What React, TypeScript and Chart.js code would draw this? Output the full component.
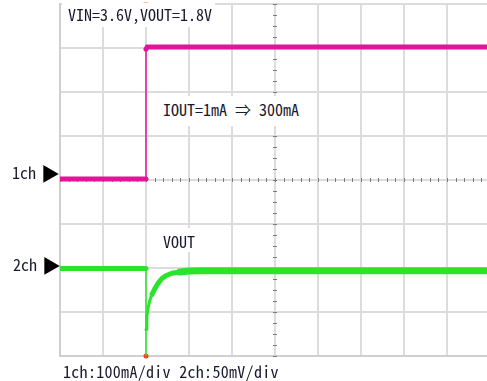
import React, { useEffect, useRef } from "react";
import { Chart, registerables } from "chart.js";

Chart.register(...registerables);

// Time axis in divisions (10 div), vertical axis in divisions (8 div)
const ch1Time = [0, 2.0, 2.0, 2.03, 10];
const ch1Level = [4.02, 4.02, 6.97, 7.02, 7.02];

const ch2Time = [0, 2.0, 2.0, 2.0, 2.02, 2.05, 2.09, 2.14, 2.21, 2.28, 2.37, 2.47, 2.6, 2.79, 3.0, 3.3, 10];
const ch2Level = [1.99, 1.99, 0, 0.6, 0.9, 1.1, 1.27, 1.4, 1.54, 1.65, 1.76, 1.83, 1.88, 1.91, 1.93, 1.94, 1.94];

const markerTime = [2.0, 2.0];
const markerLevel = [0, 8];

const xDivisions = 10;
const yDivisions = 8;

const titleText = "VIN=3.6V,VOUT=1.8V";
const loadText = "IOUT=1mA ⇒ 300mA";
const voutText = "VOUT";
const scaleText = "1ch:100mA/div 2ch:50mV/div";
const ch1Label = "1ch";
const ch2Label = "2ch";

const FONT = '"Noto Sans Mono CJK JP", "Noto Sans CJK JP", "DejaVu Sans Mono", monospace';
const TEXT_COLOR = "#181a30";

const centerTicks = {
  id: "centerTicks",
  beforeDatasetsDraw(chart: any) {
    const { ctx, scales } = chart;
    const xs = scales.x;
    const ys = scales.y;
    const cx = xs.getPixelForValue(xDivisions / 2);
    const cy = ys.getPixelForValue(yDivisions / 2);
    ctx.save();
    ctx.strokeStyle = "#7a7a7a";
    ctx.lineWidth = 1;
    ctx.beginPath();
    for (let v = 0; v <= yDivisions + 1e-9; v += 0.25) {
      const py = Math.round(ys.getPixelForValue(v)) + 0.5;
      ctx.moveTo(cx - 2, py);
      ctx.lineTo(cx + 2, py);
    }
    for (let v = 0; v <= xDivisions + 1e-9; v += 0.2) {
      const px = Math.round(xs.getPixelForValue(v)) + 0.5;
      ctx.moveTo(px, cy - 2);
      ctx.lineTo(px, cy + 2);
    }
    ctx.stroke();
    ctx.restore();
  },
};

const toPoints = (xs: number[], ys: number[]) => xs.map((x, i) => ({ x, y: ys[i] }));

export default function App() {
  const ref = useRef<HTMLCanvasElement>(null);

  useEffect(() => {
    if (!ref.current) return;
    const chart = new Chart(ref.current, {
      type: "line",
      data: {
        datasets: [
          {
            label: "1ch",
            data: toPoints(ch1Time, ch1Level),
            borderColor: "#e3139a",
            borderWidth: 5,
            pointRadius: 0,
            tension: 0,
            borderCapStyle: "round",
            segment: {
              borderWidth: (c: any) => (c.p0.parsed.x === c.p1.parsed.x ? 1.5 : 5),
            },
          } as any,
          {
            label: "2ch",
            data: toPoints(ch2Time, ch2Level),
            borderColor: "#2ae42a",
            borderWidth: 5,
            pointRadius: 0,
            tension: 0,
            borderCapStyle: "round",
            borderJoinStyle: "round",
            segment: {
              borderWidth: (c: any) => {
                const a = c.p0.parsed.x;
                const b = c.p1.parsed.x;
                if (a === b) return 1.5;
                if (b <= 2) return 5;
                if (a < 2.1) return 3;
                if (a < 2.7) return 5;
                return 7;
              },
            },
          } as any,
          {
            type: "scatter",
            label: "markers",
            data: toPoints(markerTime, markerLevel),
            pointRadius: [2.5, 3],
            pointStyle: ["circle", "triangle"],
            rotation: [0, 180],
            backgroundColor: ["#ff3b1f", "#f08a50"],
            borderWidth: 0,
            clip: false,
          } as any,
        ],
      },
      options: {
        animation: false,
        responsive: false,
        devicePixelRatio: 1,
        layout: { padding: { left: 60, top: 1, right: 10, bottom: 25 } },
        plugins: { legend: { display: false }, tooltip: { enabled: false } },
        scales: {
          x: {
            type: "linear",
            min: 0,
            max: xDivisions,
            ticks: { display: false, stepSize: 1 },
            grid: { color: "#dcdcdc", lineWidth: 2, drawTicks: false },
            border: { display: true, color: "#cfcfcf", width: 2 },
          },
          y: {
            type: "linear",
            min: 0,
            max: yDivisions,
            ticks: { display: false, stepSize: 1 },
            grid: { color: "#dcdcdc", lineWidth: 2, drawTicks: false },
            border: { display: true, color: "#cfcfcf", width: 2 },
          },
        },
      },
      plugins: [centerTicks],
    });
    return () => chart.destroy();
  }, []);

  const textStyle: React.CSSProperties = {
    position: "absolute",
    fontFamily: FONT,
    fontSize: 16,
    lineHeight: "16px",
    color: TEXT_COLOR,
    whiteSpace: "pre",
    fontFeatureSettings: '"hwid"',
  };
  const tri: React.CSSProperties = {
    position: "absolute",
    left: 29,
    top: -1,
    fontSize: 19,
    lineHeight: "19px",
    color: "#000000",
  };
  const box = (left: number, top: number, width: number, height: number): React.CSSProperties => ({
    position: "absolute",
    left,
    top,
    width,
    height,
    background: "#ffffff",
  });

  return (
    <div
      style={{
        position: "absolute",
        left: 0,
        top: 0,
        width: 487,
        height: 381,
        overflow: "hidden",
        background: "#ffffff",
      }}
    >
      <canvas ref={ref} width={500} height={381} style={{ position: "absolute", left: 0, top: 0 }} />
      <div style={box(62, 3, 153, 24)} />
      <div style={box(152, 96, 165, 30)} />
      <div style={box(157, 228, 45, 24)} />
      <div style={{ ...textStyle, left: 68, top: 6 }}>{titleText}</div>
      <div style={{ ...textStyle, left: 163, top: 101 }}>{loadText}</div>
      <div style={{ ...textStyle, left: 163, top: 233 }}>{voutText}</div>
      <div style={{ ...textStyle, left: 63, top: 363, letterSpacing: 0.3 }}>{scaleText}</div>
      <div style={{ ...textStyle, left: 12, top: 164 }}>
        {ch1Label}
        <span style={tri}>▶</span>
      </div>
      <div style={{ ...textStyle, left: 13, top: 256 }}>
        {ch2Label}
        <span style={tri}>▶</span>
      </div>
    </div>
  );
}
